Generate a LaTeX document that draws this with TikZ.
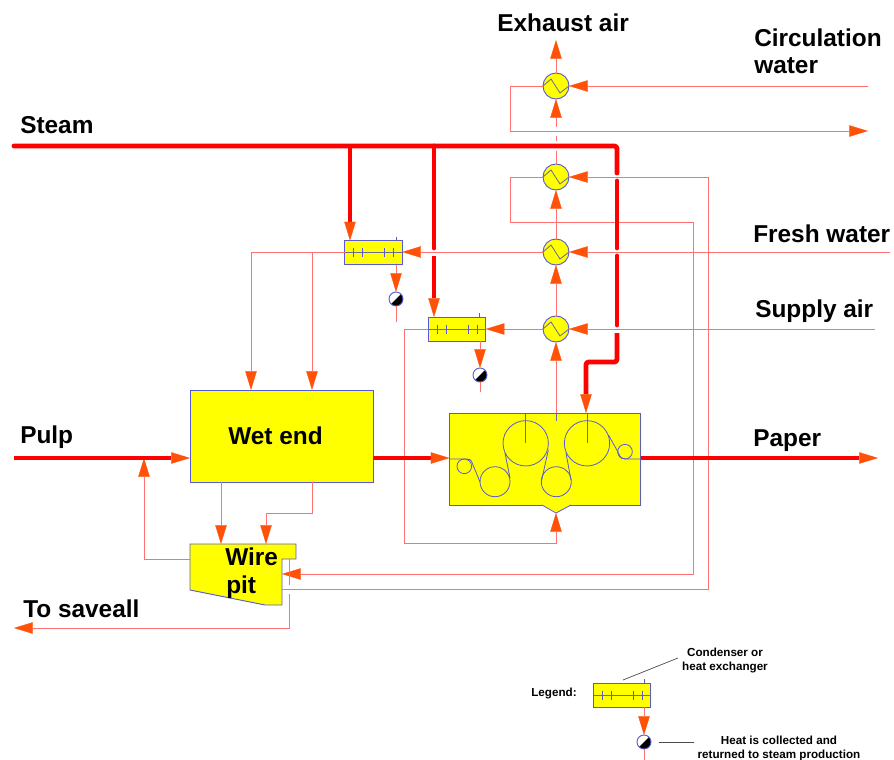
\documentclass[tikz,border=0pt]{standalone}
\usepackage{fontspec}
\setmainfont{Liberation Sans}
\usetikzlibrary{arrows.meta,calc}
\definecolor{flow}{HTML}{FF7070}
\definecolor{tipc}{HTML}{FF5208}
\definecolor{edge}{HTML}{5A5ACF}
\definecolor{inner}{HTML}{6A6A9A}
\definecolor{pure}{HTML}{FFFF00}
\tikzset{
  thin flow/.style={draw=flow,line width=0.7pt},
  arrowed/.style={-{Triangle[length=14pt,width=8.5pt,fill=tipc,color=tipc,line width=0.2pt]}},
  flowto/.style={thin flow,arrowed},
  thick flow/.style={draw=red,line width=3.6pt,line join=round},
  thickto/.style={thick flow,arrowed},
  box/.style={draw=edge,fill=pure,line width=0.7pt,inner sep=0pt,outer sep=0pt},
  hxc/.style={circle,draw=edge,fill=pure,line width=0.7pt,minimum size=19.5pt,inner sep=0pt,outer sep=0pt},
  cond/.style={box,minimum width=43pt,minimum height=18pt},
  trap/.style={circle,draw=edge,fill=white,line width=0.7pt,minimum size=10.5pt,inner sep=0pt,outer sep=0pt,
    path picture={\fill[black] (path picture bounding box.north east) -- (path picture bounding box.south east) -- (path picture bounding box.south west) -- cycle;}},
  innerline/.style={draw=inner,line width=0.6pt},
  tick/.style={draw=edge,line width=0.6pt},
  roll/.style={draw=edge,line width=0.6pt},
  big/.style={font=\bfseries\fontsize{18.3pt}{22pt}\selectfont,anchor=west,inner sep=0pt},
  small/.style={font=\bfseries\fontsize{8.75pt}{10.5pt}\selectfont,align=center,inner sep=0pt,text=black},
  leader/.style={draw=black!70,line width=0.5pt}
}
\begin{document}
\begin{tikzpicture}[x=0.75pt,y=-0.75pt]
\useasboundingbox (0,0) rectangle (894,760);
% --- equipment nodes
\node[box,minimum width=137.25pt,minimum height=69pt] (wet) at (281.5,436) {};
\node[box,minimum width=143.25pt,minimum height=69pt] (mach) at (545,459) {};
\fill[pure] (542,505) -- (571,505) -- (556.5,513) -- cycle;
\coordinate (trapL) at (542,505);\coordinate (trapR) at (571,505);\coordinate (trapB) at (556,513);
\draw[roll] (trapL) -- (trapB) -- (trapR);
\coordinate (pa) at (190,544);\coordinate (pb) at (296,544);\coordinate (pc) at (296,559);\coordinate (pd) at (282,559);
\coordinate (pe) at (282,605);\coordinate (pf) at (265,605);\coordinate (pg) at (190,590);
\draw[box] (pa) -- (pb) -- (pc) -- (pd) -- (pe) -- (pf) -- (pg) -- cycle;
\node[hxc] (h1) at (556,86) {};
\node[hxc] (h2) at (556,177) {};
\node[hxc] (h3) at (556,252) {};
\node[hxc] (h4) at (556,329) {};
\node[cond] (c1) at (373.5,252.5) {};
\node[cond] (c2) at (457,329) {};
\node[cond] (c3) at (622,695) {};
\node[trap] (t1) at (396,299) {};
\node[trap] (t2) at (480,375) {};
\node[trap] (t3) at (644,742) {};
% --- exchanger zigzags
\foreach \n in {h1,h2,h3,h4}{
  \draw[innerline] ($(\n)+(-13,0)$) -- ($(\n)+(-5,-7)$) -- ($(\n)+(4,7)$) -- ($(\n)+(13,0)$);
}
% --- condenser insides
\foreach \n in {c1,c2,c3}{
  \draw[innerline] (\n.west) -- (\n.east);
  \foreach \d in {-20,-11,11,20}{ \draw[tick] ($(\n)+(\d,-4.5)$) -- ($(\n)+(\d,4.5)$); }
  \draw[tick] ($(\n.north east)+(-6,-4)$) -- ($(\n.north east)+(-6,0)$);
}
% --- machine insides
\node[circle,roll,minimum size=34pt,inner sep=0pt] (r1) at (525.7,443.3) {};
\node[circle,roll,minimum size=34pt,inner sep=0pt] (r2) at (587,443.3) {};
\node[circle,roll,minimum size=22.5pt,inner sep=0pt] (r3) at (495,481.7) {};
\node[circle,roll,minimum size=22.5pt,inner sep=0pt] (r4) at (556.3,481.7) {};
\node[circle,roll,minimum size=11pt,inner sep=0pt] (r5) at (464.3,466.3) {};
\node[circle,roll,minimum size=11pt,inner sep=0pt] (r6) at (625,451.7) {};
\draw[innerline] (r1 |- mach.north) -- (r1.center);
\draw[innerline] (r2 |- mach.north) -- (r2.center);
\coordinate (mtick) at (556,421);
\draw[innerline] (mach.north -| mtick) -- (mtick);
\draw[roll] (449.5,459) -- (467,459) .. controls (472,459) and (472,463) .. (473,465) -- (480,482);
\draw[roll] (510,478) -- (505,453);
\draw[roll] (548.3,450) -- (541.7,480);
\draw[roll] (571,480) -- (566,453);
\draw[roll] (608.5,435) -- (618.5,453) .. controls (620,458) and (623,459) .. (626,459) -- (640.5,459);
% --- thin connectors
\coordinate (e1) at (556,40);
\draw[flowto] (h1.north) -- (e1);
\coordinate (g1) at (556,127);\coordinate (g2) at (556,136);\coordinate (g3) at (556,141);\coordinate (g4) at (556,151);
\draw[flowto] (g1) -- (h1.south);
\draw[thin flow] (g2) -- (g3);
\draw[thin flow] (g4) -- (h2.north);
\draw[flowto] (h3.north) -- (h2.south);
\draw[flowto] (h4.north) -- (h3.south);
\coordinate (mt) at (556,413);
\draw[flowto] (mt) -- (h4.south);
% circulation water
\coordinate (cwin) at (868,86);\coordinate (cwa) at (510,86);\coordinate (cwb) at (510,131);\coordinate (cwout) at (868,131);
\draw[flowto] (cwin) -- (h1.east);
\draw[flowto] (h1.west) -- (cwa) -- (cwb) -- (cwout);
% second exchanger loop
\coordinate (la) at (708,177);\coordinate (lb) at (708,589);\coordinate (lc) at (510,177);\coordinate (ld) at (510,222);\coordinate (le) at (693,222);\coordinate (lf) at (693,574);
\draw[flowto] (lb -| pe) -- (lb) -- (la) -- (h2.east);
\draw[flowto] (h2.west) -- (lc) -- (ld) -- (le) -- (lf) -- (lf -| pe);
% fresh water
\coordinate (fw) at (890,252);\coordinate (f1) at (251,252);\coordinate (f2) at (312,252);
\draw[flowto] (fw) -- (h3.east);
\draw[flowto] (h3.west) -- (c1.east |- h3);
\draw[flowto] (c1.west |- h3) -- (f1) -- (f1 |- wet.north);
\draw[flowto] (f2) -- (f2 |- wet.north);
% supply air
\coordinate (sa) at (875,329);\coordinate (s1) at (404,329);\coordinate (s2) at (404,543);\coordinate (s3) at (556,543);
\draw[flowto] (sa) -- (h4.east);
\draw[flowto] (h4.west) -- (c2.east);
\draw[flowto] (c2.west) -- (s1) -- (s2) -- (s3) -- (trapB);
% wet end to wire pit
\coordinate (w1) at (221,482);\coordinate (w2) at (312,482);\coordinate (w3) at (312,513);\coordinate (w4) at (266,513);
\draw[flowto] (w1) -- (w1 |- pa);
\draw[flowto] (w2) -- (w3) -- (w4) -- (w4 |- pa);
% recycle to pulp
\coordinate (rp0) at (190,559);\coordinate (rp1) at (144,559);\coordinate (rp2) at (144,458);
\draw[flowto] (rp0) -- (rp1) -- (rp2);
% to saveall
\coordinate (sv0) at (289,559);\coordinate (sv1) at (289,585);\coordinate (sv2) at (289,594);\coordinate (sv3) at (289,628);\coordinate (sv4) at (14,628);
\draw[thin flow] (sv0) -- (sv1);
\draw[flowto] (sv2) -- (sv3) -- (sv4);
% traps
\draw[flowto] (c1.south -| t1) -- (t1.north);
\coordinate (t1e) at (396,322);\draw[thin flow] (t1.south) -- (t1e);
\draw[flowto] (c2.south -| t2) -- (t2.north);
\coordinate (t2e) at (480,392);\draw[thin flow] (t2.south) -- (t2e);
\draw[flowto] (c3.south -| t3) -- (t3.north);
\coordinate (t3e) at (644,760);\draw[thin flow] (t3.south) -- (t3e);
% --- thick connectors
\coordinate (st0) at (14,146);\coordinate (st1) at (617,146);\coordinate (st2) at (617,173);\coordinate (st3) at (617,181);
\coordinate (st4) at (617,248);\coordinate (st5) at (617,256);\coordinate (st6) at (617,325);\coordinate (st7) at (617,333);
\coordinate (st8) at (617,362);\coordinate (st9) at (586,362);
\draw[thick flow,rounded corners=2pt,line cap=round] (st0) -- (st1) -- (st2);
\draw[thick flow,line cap=round] (st3) -- (st4);
\draw[thick flow,line cap=round] (st5) -- (st6);
\draw[thickto,rounded corners=2pt] (st7) -- (st8) -- (st9) -- (st9 |- mach.north);
\coordinate (b1) at (350,146);\coordinate (b2) at (434,146);\coordinate (b3) at (434,248);\coordinate (b4) at (434,256);
\draw[thickto] (b1) -- (b1 |- c1.north);
\draw[thick flow,line cap=round] (b2) -- (b3);
\draw[thickto] (b4) -- (b4 |- c2.north);
\coordinate (p0) at (14,458);\coordinate (pp) at (878,458);
\draw[thickto] (p0) -- (p0 -| wet.west);
\draw[thickto] (wet.east |- p0) -- (mach.west |- p0);
\draw[thickto] (mach.east |- p0) -- (pp);
% --- leaders
\coordinate (l1) at (623,680);\coordinate (l2) at (678,658);\coordinate (l3) at (659,742);\coordinate (l4) at (694,742);
\draw[leader] (l1) -- (l2);
\draw[leader] (l3) -- (l4);
% --- texts
\node[big] (tExh) at (497,23) {Exhaust air};
\node[big] (tCir) at (754,38) {Circulation};
\node[big] (tWat) at (754,66) {water};
\node[big] (tSte) at (20,125) {Steam};
\node[big] (tFre) at (753,234) {Fresh water};
\node[big] (tSup) at (755,311) {Supply air};
\node[big] (tPul) at (20,437) {Pulp};
\node[big] (tPap) at (753,441) {Paper};
\node[big] (tWet) at (228,436) {Wet end};
\node[big] (tWir) at (225,557) {Wire};
\node[big] (tPit) at (226,587) {pit};
\node[big] (tSav) at (23,609) {To saveall};
\node[small] (tLeg) at (554,694) {Legend:};
\node[small] (tCon) at (725,661) {Condenser or\\heat exchanger};
\node[small] (tHea) at (779,748) {Heat is collected and\\returned to steam production};
\end{tikzpicture}
\end{document}
